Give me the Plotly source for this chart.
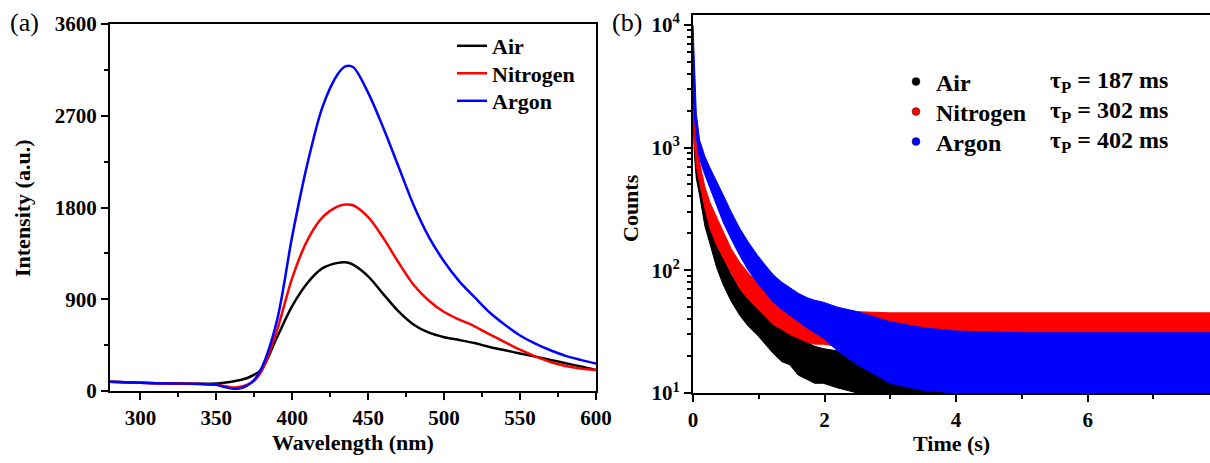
import plotly.graph_objects as go

# ---------------- Panel (a): emission spectra ----------------
wavelength = [280, 300, 320, 340, 350, 355, 360, 365, 370, 375,
              380, 390, 400, 410, 420, 430, 435, 440, 450, 460,
              470, 480, 490, 500, 510, 520, 530, 540, 550, 560,
              570, 580, 590, 600]
air_int = [90, 80, 75, 72, 74, 80, 90, 105, 125, 160,
           215, 528, 835, 1060, 1205, 1257, 1262, 1240, 1125, 950,
           780, 650, 572, 528, 500, 470, 432, 400, 368, 337,
           305, 272, 240, 205]
nitrogen_int = [90, 80, 74, 68, 62, 50, 35, 40, 60, 100,
                200, 597, 1110, 1480, 1705, 1810, 1829, 1822, 1705, 1500,
                1260, 1040, 885, 775, 700, 635, 555, 480, 405, 340,
                285, 245, 220, 205]
argon_int = [90, 80, 74, 68, 60, 40, 25, 25, 50, 110,
             230, 694, 1520, 2230, 2790, 3110, 3185, 3178, 2925, 2580,
             2200, 1820, 1510, 1270, 1075, 920, 770, 650, 545, 465,
             400, 345, 305, 270]

# ---------------- Panel (b): phosphorescence decay (cloud envelopes) ----------------
time_s = [0, 0.02, 0.05, 0.1, 0.18, 0.26, 0.36, 0.46, 0.58, 0.71,
          0.84, 0.97, 1.1, 1.22, 1.35, 1.47, 1.6, 1.73, 1.85, 1.98,
          2.2, 2.5, 3.0, 3.5, 4.0, 5.0, 6.0, 7.0, 7.9]
air_hi = [4000, 1500, 900, 590, 340, 245, 170, 126, 92, 71,
          58, 49, 43, 38, 34, 31, 28, 26, 24, 23,
          22, 20, 18, 16, 15, 15, 15, 15, 15]
air_lo = [2000, 900, 560, 410, 230, 160, 105, 76, 56, 43,
          35, 30, 25, 21, 18, 17, 14, 13, 12, 12,
          11, 10, 10, 10, 10, 10, 10, 10, 10]
n2_hi = [4000, 1800, 1100, 760, 480, 355, 270, 205, 150, 116,
         95, 80, 70, 63, 57, 52, 50, 49, 48, 48,
         47, 46, 45, 45, 45, 45, 45, 45, 45]
n2_lo = [2000, 1100, 700, 525, 320, 218, 160, 126, 95, 71,
         58, 49, 42, 36, 33, 30, 28, 26, 25, 25,
         24, 23, 23, 23, 23, 23, 23, 23, 23]
ar_hi = [10000, 4600, 1900, 1150, 850, 680, 520, 410, 300, 220,
         170, 135, 110, 92, 80, 72, 65, 60, 57, 55,
         50, 46, 38, 34, 32, 31, 31, 31, 31]
ar_lo = [3500, 1800, 1200, 800, 600, 465, 340, 245, 180, 132,
         100, 80, 66, 55, 48, 43, 38, 34, 31, 28,
         22, 17, 12, 10.5, 10, 10, 10, 10, 10]

names = ["Air", "Nitrogen", "Argon"]
colors = ["#000000", "#ff0000", "#0000ff"]
lifetimes = ["187", "302", "402"]

FONT = "Liberation Serif"
W, H = 1210, 463

fig = go.Figure()

left_legends = ["legend", "legend2", "legend3"]
right_legends = ["legend4", "legend5", "legend6"]

for name, col, ys, lg in zip(names, colors, [air_int, nitrogen_int, argon_int], left_legends):
    fig.add_trace(go.Scatter(x=wavelength, y=ys, mode="lines", name=name,
                             line=dict(color=col, width=2.5, shape="spline", smoothing=0.9),
                             xaxis="x", yaxis="y", legend=lg))

for name, col, lo, hi, op in zip(names, colors, [air_lo, n2_lo, ar_lo], [air_hi, n2_hi, ar_hi],
                                 [1.0, 0.95, 0.85]):
    fig.add_trace(go.Scatter(x=time_s, y=lo, mode="lines", line=dict(color=col, width=1),
                             showlegend=False, xaxis="x2", yaxis="y2", opacity=op))
    fig.add_trace(go.Scatter(x=time_s, y=hi, mode="lines", line=dict(color=col, width=1),
                             fill="tonexty", fillcolor=col, showlegend=False,
                             xaxis="x2", yaxis="y2", opacity=op))

for name, col, lg in zip(names, colors, right_legends):
    fig.add_trace(go.Scatter(x=[None], y=[None], mode="markers", name=name,
                             marker=dict(color=col, size=8, line=dict(color="#333", width=0.5)),
                             xaxis="x2", yaxis="y2", legend=lg))

axis_common = dict(showline=True, linecolor="black", linewidth=2, ticks="outside",
                   ticklen=7, tickwidth=2, tickcolor="black", showgrid=False, zeroline=False,
                   automargin=False,
                   tickfont=dict(family=FONT, size=21, color="black", weight="bold"))

minor_log = []
for dec in [10, 100, 1000]:
    minor_log += [dec * k for k in range(2, 10)]

legend_layout = {}
for i, lg in enumerate(left_legends):
    legend_layout[lg] = dict(x=452 / W, y=1 - (46 + 27.5 * i) / H, xanchor="left", yanchor="middle",
                             bgcolor="rgba(0,0,0,0)",
                             font=dict(family=FONT, size=22, color="black", weight="bold"),
                             itemwidth=30)
for i, lg in enumerate(right_legends):
    legend_layout[lg] = dict(x=896 / W, y=1 - (82 + 30 * i) / H, xanchor="left", yanchor="middle",
                             bgcolor="rgba(0,0,0,0)",
                             font=dict(family=FONT, size=24, color="black", weight="bold"),
                             itemsizing="trace")

fig.update_layout(
    width=W, height=H,
    margin=dict(l=0, r=0, t=0, b=0, autoexpand=False),
    paper_bgcolor="white", plot_bgcolor="white",
    font=dict(family=FONT, color="black"),
    xaxis=dict(domain=[110 / W, 596 / W], range=[280, 600], tickvals=[300, 350, 400, 450, 500, 550, 600],
               mirror=True, minor=dict(dtick=25, ticks="outside", ticklen=4, tickwidth=2, tickcolor="black"),
               anchor="y", **axis_common),
    yaxis=dict(domain=[1 - 391 / H, 1 - 24 / H], range=[0, 3600], tickvals=[0, 900, 1800, 2700, 3600],
               mirror=True, minor=dict(dtick=450, ticks="outside", ticklen=4, tickwidth=2, tickcolor="black"),
               anchor="x", **axis_common),
    xaxis2=dict(domain=[693 / W, 1.0], range=[0, 7.86], tickvals=[0, 2, 4, 6],
                mirror=True, minor=dict(dtick=1, ticks="outside", ticklen=4, tickwidth=2, tickcolor="black"),
                anchor="y2", **axis_common),
    yaxis2=dict(domain=[1 - 393 / H, 1 - 15 / H], type="log", range=[1, 4.08],
                tickvals=[10, 100, 1000, 10000],
                ticktext=["10<sup>1</sup>", "10<sup>2</sup>", "10<sup>3</sup>", "10<sup>4</sup>"],
                minor=dict(tickvals=minor_log, ticks="outside", ticklen=4, tickwidth=2, tickcolor="black"),
                mirror=False, anchor="x2", **axis_common),
    **legend_layout,
)


def label(text, x, y, size, bold=True, angle=0, xanchor="center"):
    f = dict(family=FONT, size=size, color="black")
    if bold:
        f["weight"] = "bold"
    return dict(text=text, x=x / W, y=1 - y / H, xref="paper", yref="paper",
                xanchor=xanchor, yanchor="middle", textangle=angle, showarrow=False, font=f)


ann = [
    label("(a)", 24, 22, 26, bold=False),
    label("(b)", 627, 22, 26, bold=False),
    label("Intensity (a.u.)", 22, 208, 22, angle=-90),
    label("Wavelength (nm)", 353, 442, 22),
    label("Counts", 630, 208, 22, angle=-90),
    label("Time (s)", 951, 443, 22),
]
for i, lt in enumerate(lifetimes):
    ann.append(label("τ<sub>P</sub> = " + lt + " ms", 1048, 82 + 30 * i, 24, xanchor="left"))
fig.update_layout(annotations=ann)

fig.write_html("out.html")
